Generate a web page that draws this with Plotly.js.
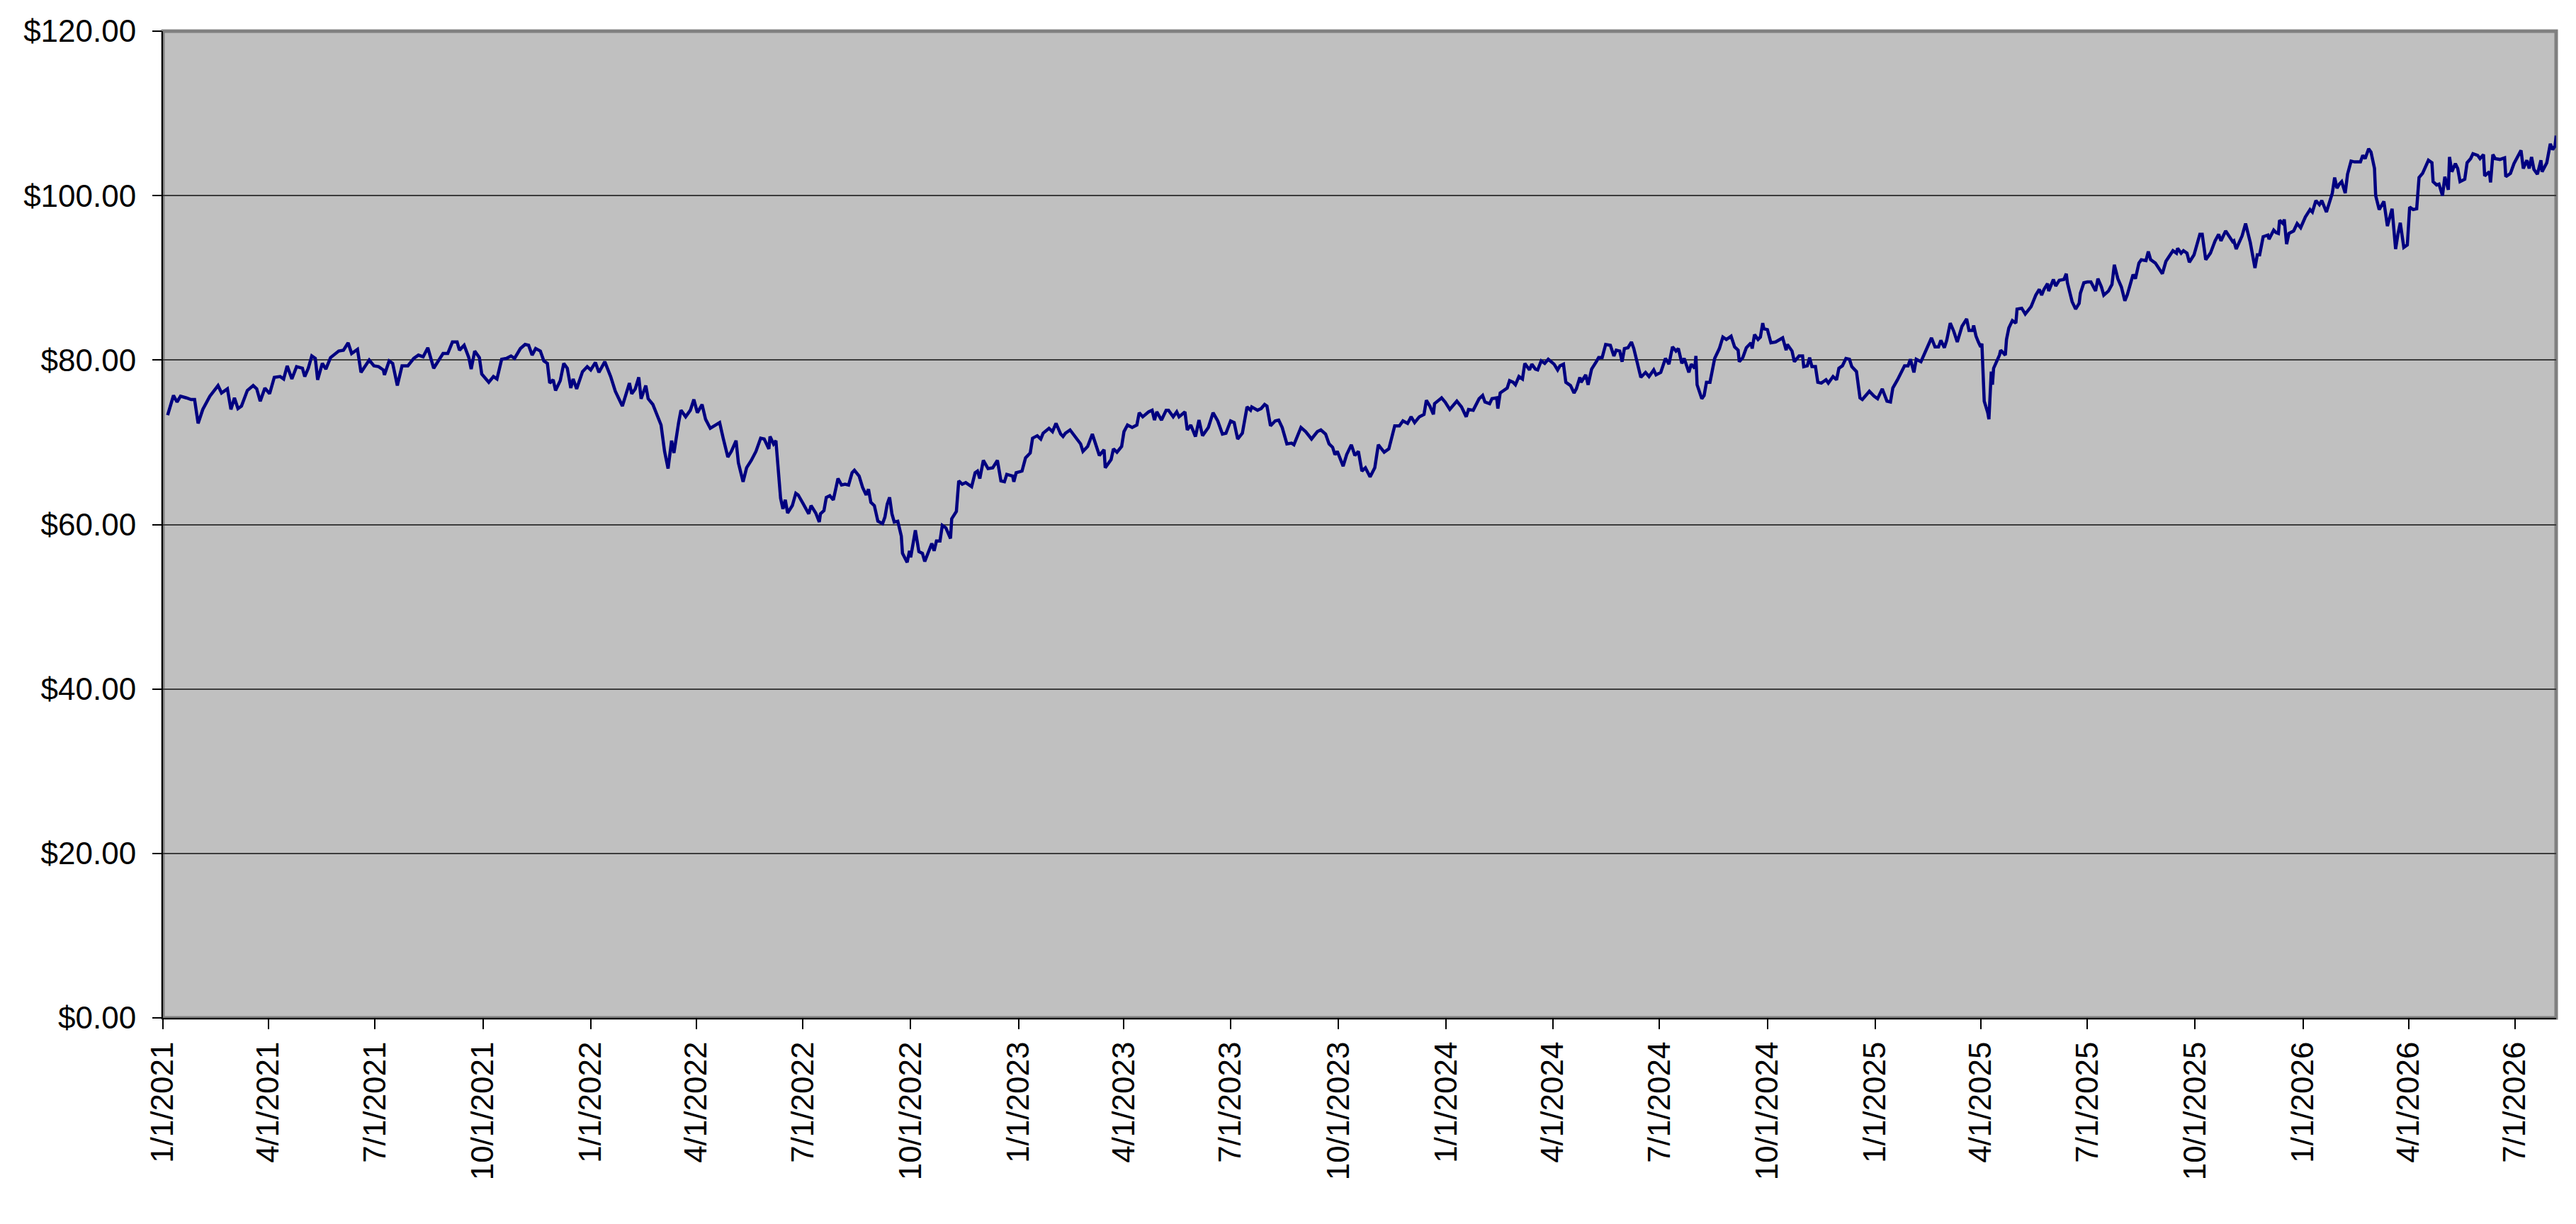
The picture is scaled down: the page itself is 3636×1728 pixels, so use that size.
<!DOCTYPE html>
<html>
<head>
<meta charset="utf-8">
<script src="https://cdn.plot.ly/plotly-3.0.1.min.js"></script>
<style>
  html, body { margin: 0; padding: 0; background: #ffffff; }
  #chart { width: 3636px; height: 1728px; }
</style>
</head>
<body>
<div id="chart"></div>
<script>
// Series values: day offsets from the start date and prices
const startDate = '2021-01-01';
const endDate = '2026-08-05';

const dayOffsets = [
  4, 9, 12, 15, 20, 24, 27, 30, 34, 40, 47, 50, 55, 58, 61, 64, 67, 72, 77, 80,
  83, 87, 91, 95, 100, 103, 106, 110, 114, 119, 121, 124, 127, 130, 132, 136, 139, 143, 150, 154,
  158, 161, 166, 169, 176, 180, 184, 188, 189, 193, 196, 200, 204, 209, 214, 218, 222, 226, 231, 239,
  243, 247, 251, 253, 257, 261, 263, 266, 270, 272, 278, 282, 285, 289, 293, 297, 300, 305, 309, 312,
  315, 318, 322, 325, 328, 330, 333, 335, 339, 342, 345, 348, 350, 353, 358, 362, 365, 369, 372, 377,
  382, 386, 392, 398, 400, 403, 406, 408, 412, 414, 418, 421, 425, 428, 431, 434, 436, 440, 442, 446,
  450, 453, 456, 460, 463, 467, 471, 475, 478, 482, 485, 489, 491, 495, 498, 502, 506, 510, 513, 517,
  518, 521, 523, 525, 527, 529, 531, 533, 537, 540, 542, 546, 551, 553, 557, 560, 561, 564, 566, 569,
  572, 576, 579, 582, 585, 588, 590, 594, 597, 600, 602, 604, 607, 610, 614, 616, 618, 620, 622, 624,
  627, 630, 631, 635, 637, 638, 642, 645, 648, 650, 653, 656, 658, 660, 663, 665, 668, 672, 673, 677,
  679, 682, 685, 690, 693, 695, 697, 700, 704, 708, 712, 715, 718, 720, 725, 726, 728, 733, 736, 740,
  742, 746, 749, 751, 756, 759, 762, 766, 768, 770, 774, 778, 783, 785, 789, 793, 796, 799, 803, 804,
  809, 811, 814, 818, 820, 823, 827, 831, 833, 836, 841, 844, 846, 848, 852, 856, 858, 862, 865, 867,
  872, 874, 877, 881, 884, 887, 892, 896, 900, 904, 907, 911, 914, 917, 921, 925, 928, 929, 934, 937,
  940, 942, 945, 949, 952, 955, 959, 963, 965, 971, 975, 980, 985, 988, 992, 995, 998, 1000, 1002, 1007,
  1010, 1014, 1017, 1020, 1023, 1026, 1030, 1034, 1037, 1042, 1046, 1049, 1051, 1055, 1058, 1062, 1065, 1068, 1072, 1076,
  1078, 1081, 1084, 1085, 1089, 1091, 1094, 1098, 1104, 1108, 1112, 1114, 1118, 1123, 1126, 1128, 1132, 1134, 1138, 1139,
  1141, 1147, 1149, 1152, 1154, 1157, 1160, 1162, 1166, 1168, 1171, 1173, 1176, 1179, 1182, 1187, 1190, 1192, 1195, 1197,
  1201, 1204, 1206, 1209, 1210, 1214, 1216, 1219, 1223, 1225, 1228, 1231, 1235, 1238, 1240, 1243, 1245, 1247, 1250, 1253,
  1255, 1259, 1261, 1265, 1268, 1272, 1274, 1278, 1282, 1285, 1288, 1291, 1293, 1296, 1298, 1302, 1304, 1307, 1308, 1309,
  1313, 1315, 1317, 1320, 1322, 1324, 1328, 1330, 1331, 1334, 1338, 1341, 1344, 1345, 1348, 1351, 1355, 1356, 1358, 1361,
  1363, 1365, 1366, 1369, 1372, 1376, 1379, 1382, 1385, 1386, 1390, 1392, 1396, 1399, 1400, 1403, 1405, 1407, 1410, 1412,
  1415, 1419, 1421, 1425, 1428, 1430, 1433, 1436, 1439, 1441, 1445, 1448, 1450, 1456, 1460, 1463, 1467, 1471, 1474, 1476,
  1480, 1482, 1486, 1489, 1491, 1494, 1496, 1500, 1503, 1506, 1509, 1512, 1515, 1517, 1520, 1522, 1525, 1528, 1531, 1535,
  1539, 1541, 1544, 1545, 1547, 1549, 1551, 1552, 1554, 1557, 1558, 1560, 1561, 1562, 1565, 1567, 1568, 1572, 1573, 1575,
  1578, 1581, 1582, 1586, 1589, 1592, 1594, 1596, 1598, 1601, 1603, 1605, 1608, 1609, 1613, 1615, 1618, 1622, 1624, 1625,
  1627, 1629, 1632, 1635, 1636, 1639, 1642, 1645, 1649, 1651, 1654, 1656, 1660, 1663, 1665, 1668, 1671, 1674, 1676, 1678,
  1681, 1683, 1686, 1688, 1692, 1694, 1696, 1700, 1706, 1709, 1713, 1715, 1718, 1719, 1722, 1724, 1727, 1729, 1733, 1736,
  1738, 1740, 1743, 1747, 1751, 1754, 1756, 1760, 1762, 1766, 1767, 1769, 1774, 1777, 1781, 1783, 1785, 1787, 1789, 1792,
  1796, 1797, 1801, 1803, 1805, 1806, 1809, 1810, 1812, 1814, 1818, 1821, 1824, 1828, 1832, 1834, 1837, 1840, 1842, 1846,
  1849, 1851, 1853, 1855, 1857, 1859, 1862, 1864, 1867, 1870, 1875, 1877, 1879, 1882, 1884, 1887, 1888, 1891, 1895, 1898,
  1902, 1903, 1905, 1907, 1909, 1912, 1915, 1917, 1920, 1923, 1925, 1928, 1931, 1933, 1936, 1937, 1940, 1942, 1945, 1947,
  1950, 1951, 1953, 1956, 1958, 1960, 1964, 1966, 1969, 1971, 1975, 1977, 1980, 1981, 1985, 1986, 1988, 1990, 1994, 1998,
  1999, 2003, 2006, 2009, 2012, 2014, 2017, 2019, 2021, 2023, 2026, 2029, 2030, 2034, 2037, 2039, 2041, 2042
];

const prices = [
  73.3, 75.7, 74.9, 75.6, 75.4, 75.2, 75.2, 72.3, 74.0, 75.6, 76.9, 76.0, 76.5, 74.0, 75.4, 74.1, 74.4, 76.3, 76.9, 76.5,
  75.0, 76.6, 75.9, 77.9, 78.0, 77.7, 79.3, 77.7, 79.2, 79.0, 78.0, 79.0, 80.5, 80.2, 77.6, 79.6, 78.9, 80.3, 81.1, 81.2,
  82.1, 80.8, 81.3, 78.5, 80.0, 79.3, 79.2, 78.8, 78.2, 79.9, 79.6, 76.9, 79.3, 79.3, 80.2, 80.6, 80.4, 81.5, 79.0, 80.8,
  80.8, 82.2, 82.2, 81.2, 81.8, 80.3, 78.9, 81.1, 80.3, 78.3, 77.3, 78.0, 77.7, 80.1, 80.2, 80.5, 80.2, 81.4, 81.9, 81.8,
  80.6, 81.4, 81.1, 79.9, 79.6, 77.2, 77.6, 76.3, 77.5, 79.6, 79.0, 76.6, 77.7, 76.5, 78.6, 79.2, 78.8, 79.7, 78.5, 79.8,
  78.0, 76.2, 74.4, 77.2, 75.9, 76.5, 77.9, 75.3, 76.9, 75.3, 74.6, 73.6, 72.1, 68.9, 66.8, 70.2, 68.7, 72.4, 73.9, 73.1,
  73.9, 75.2, 73.6, 74.6, 72.8, 71.7, 72.1, 72.4, 70.5, 68.2, 68.9, 70.2, 67.5, 65.2, 66.9, 67.8, 68.9, 70.5, 70.4, 69.2,
  70.7, 69.8, 70.2, 66.1, 63.2, 61.9, 63.0, 61.4, 62.3, 63.8, 63.6, 62.6, 61.3, 62.3, 61.4, 60.3, 61.3, 61.7, 63.3, 63.5,
  63.0, 65.6, 64.8, 64.9, 64.8, 66.3, 66.6, 65.9, 64.5, 63.6, 64.3, 62.7, 62.3, 60.4, 60.1, 60.9, 62.5, 63.3, 61.3, 60.3,
  60.4, 58.6, 56.5, 55.4, 56.8, 56.0, 59.3, 56.7, 56.5, 55.5, 56.7, 57.7, 56.8, 58.0, 58.0, 59.9, 59.6, 58.3, 60.7, 61.6,
  65.3, 64.9, 65.1, 64.6, 66.3, 66.5, 65.6, 67.8, 66.8, 66.9, 67.8, 65.3, 65.2, 66.1, 65.9, 65.2, 66.3, 66.5, 68.1, 68.7,
  70.5, 70.8, 70.4, 71.1, 71.7, 71.3, 72.3, 71.0, 70.7, 71.1, 71.5, 70.7, 69.8, 68.9, 69.5, 71.0, 69.8, 68.4, 69.1, 66.9,
  67.9, 69.2, 68.8, 69.5, 71.3, 72.1, 71.8, 72.1, 73.6, 73.1, 73.7, 73.9, 72.7, 73.7, 72.7, 73.9, 73.9, 73.1, 73.7, 73.1,
  73.7, 71.5, 72.1, 70.7, 72.7, 70.8, 71.8, 73.6, 72.6, 71.0, 71.1, 72.6, 72.4, 70.4, 71.1, 74.3, 73.9, 74.3, 73.9, 74.1,
  74.6, 74.4, 72.0, 72.6, 72.7, 71.8, 69.8, 69.9, 69.7, 71.8, 71.3, 70.4, 71.3, 71.5, 71.0, 69.8, 69.4, 68.5, 68.9, 67.1,
  68.5, 69.7, 68.4, 68.9, 66.5, 66.9, 65.8, 66.9, 69.7, 68.8, 69.2, 71.0, 72.0, 72.0, 72.6, 72.3, 73.1, 72.4, 73.1, 73.4,
  75.1, 74.4, 73.4, 74.7, 75.2, 75.4, 74.9, 74.0, 75.0, 74.3, 73.1, 74.0, 73.9, 75.3, 75.7, 74.9, 74.7, 75.3, 75.4, 74.1,
  76.0, 76.6, 77.5, 77.3, 77.0, 78.0, 77.7, 79.6, 78.8, 79.5, 78.9, 78.8, 79.9, 79.6, 80.1, 79.5, 78.8, 79.3, 79.5, 77.3,
  76.9, 76.0, 76.5, 77.9, 77.3, 78.2, 77.0, 78.9, 79.8, 80.3, 80.3, 81.9, 81.8, 80.5, 81.2, 81.1, 79.8, 81.4, 81.5, 82.2,
  81.4, 78.8, 77.9, 78.5, 78.0, 78.8, 78.2, 78.5, 80.2, 79.5, 81.6, 81.1, 81.4, 79.6, 80.2, 78.5, 79.5, 79.0, 80.5, 77.0,
  75.3, 75.7, 77.3, 77.3, 78.9, 80.2, 81.4, 82.2, 82.8, 82.5, 82.9, 81.6, 81.2, 79.8, 80.3, 81.5, 82.1, 81.4, 83.1, 82.5,
  82.8, 84.5, 83.8, 83.7, 82.1, 82.2, 82.4, 82.7, 81.2, 81.9, 81.1, 79.8, 80.5, 80.5, 79.2, 79.3, 80.3, 79.2, 79.2, 77.3,
  77.2, 77.6, 77.2, 78.0, 77.6, 79.0, 79.3, 80.2, 80.1, 79.2, 78.6, 75.4, 75.2, 76.2, 75.6, 75.3, 76.5, 75.0, 74.9, 76.6,
  77.6, 78.2, 79.3, 79.3, 80.1, 78.5, 80.1, 79.8, 80.8, 81.9, 82.7, 81.6, 81.6, 82.4, 81.5, 82.4, 84.5, 83.5, 82.2, 84.1,
  85.0, 83.6, 83.6, 84.2, 82.9, 82.2, 81.6, 82.0, 75.0, 73.6, 72.8, 78.6, 77.0, 79.0, 79.9, 80.6, 81.2, 80.6, 82.5, 83.9,
  84.8, 84.5, 86.2, 86.3, 85.6, 86.2, 86.5, 87.2, 87.9, 88.6, 87.9, 88.6, 89.3, 88.4, 89.8, 89.0, 89.7, 89.8, 90.5, 89.4,
  88.2, 87.1, 86.2, 86.9, 88.1, 89.4, 89.5, 89.5, 88.4, 89.9, 88.9, 87.9, 88.4, 89.2, 91.6, 89.9, 88.9, 87.2, 87.9, 88.9,
  90.4, 89.9, 91.8, 92.2, 92.1, 93.2, 92.2, 91.8, 90.5, 92.0, 92.8, 93.3, 93.0, 93.6, 93.0, 93.3, 93.0, 91.9, 92.8, 94.3,
  95.3, 95.3, 92.2, 93.0, 94.5, 95.3, 94.5, 95.7, 95.3, 94.4, 94.5, 93.5, 95.1, 96.6, 94.3, 92.7, 91.2, 92.8, 92.8, 95.0,
  95.2, 94.7, 95.8, 95.5, 95.4, 97.0, 96.6, 97.1, 94.1, 95.4, 95.7, 96.6, 96.1, 97.4, 98.3, 98.0, 99.4, 98.9, 99.4, 98.0,
  99.6, 100.3, 102.2, 100.9, 101.4, 101.7, 100.3, 102.6, 104.2, 104.1, 104.1, 104.9, 104.5, 105.7, 105.3, 103.3, 100.0, 98.3, 99.3, 96.3,
  98.4, 96.6, 93.5, 95.3, 96.7, 93.7, 94.0, 98.6, 98.3, 98.4, 102.2, 102.7, 103.6, 104.3, 104.0, 101.7, 101.3, 101.4, 100.0, 102.3,
  100.7, 104.7, 102.9, 103.9, 103.3, 101.7, 102.0, 104.0, 104.5, 105.1, 104.9, 104.5, 105.0, 102.4, 102.9, 101.6, 105.0, 104.5, 104.4, 104.6,
  102.3, 102.7, 103.9, 104.7, 105.5, 103.3, 104.3, 103.3, 104.7, 103.2, 102.6, 104.3, 102.9, 104.0, 106.3, 105.6, 106.0, 107.3
];

// Axis ticks: quarterly date labels and dollar gridlines
const tickDates = [
  '2021-01-01', '2021-04-01', '2021-07-01', '2021-10-01',
  '2022-01-01', '2022-04-01', '2022-07-01', '2022-10-01',
  '2023-01-01', '2023-04-01', '2023-07-01', '2023-10-01',
  '2024-01-01', '2024-04-01', '2024-07-01', '2024-10-01',
  '2025-01-01', '2025-04-01', '2025-07-01', '2025-10-01',
  '2026-01-01', '2026-04-01', '2026-07-01'
];
const priceTicks = [0, 20, 40, 60, 80, 100, 120];

// Build the date strings from the offsets
const startMs = Date.parse(startDate + 'T00:00:00Z');
const dates = dayOffsets.map(d => new Date(startMs + d * 86400000).toISOString().slice(0, 10));

// "2021-04-01" -> "4/1/2021"
const tickLabels = tickDates.map(s => {
    const [y, m, d] = s.split('-');
    return parseInt(m, 10) + '/' + parseInt(d, 10) + '/' + y;
});

const fontFamily = '"Liberation Sans", Arial, sans-serif';

const data = [{
    x: dates,
    y: prices,
    type: 'scatter',
    mode: 'lines',
    line: { color: '#000080', width: 4.5 },
    hoverinfo: 'x+y',
    showlegend: false
}];

const layout = {
    width: 3636,
    height: 1728,
    paper_bgcolor: '#ffffff',
    plot_bgcolor: '#c0c0c0',
    font: { family: fontFamily, size: 44, color: '#000000' },
    margin: { l: 230, r: 28, t: 44, b: 291, pad: 0 },
    showlegend: false,
    xaxis: {
        type: 'date',
        range: [startDate, endDate],
        tickmode: 'array',
        tickvals: tickDates,
        ticktext: tickLabels,
        tickangle: -90,
        ticks: 'outside',
        ticklen: 14,
        tickwidth: 2,
        tickcolor: '#000000',
        tickfont: { family: fontFamily, size: 44, color: '#000000' },
        showgrid: false,
        zeroline: false,
        showline: true,
        linecolor: '#000000',
        linewidth: 2,
        mirror: false
    },
    yaxis: {
        range: [0, 120],
        tickmode: 'array',
        tickvals: priceTicks,
        tickformat: '$.2f',
        ticks: 'outside',
        ticklen: 13,
        tickwidth: 2,
        tickcolor: '#000000',
        ticklabelstandoff: 14,
        tickfont: { family: fontFamily, size: 44, color: '#000000' },
        showgrid: true,
        gridcolor: '#3c3c3c',
        gridwidth: 2,
        zeroline: false,
        showline: true,
        linecolor: '#000000',
        linewidth: 2,
        mirror: false
    },
    shapes: [{
        type: 'rect',
        xref: 'paper', yref: 'paper',
        x0: 0, x1: 1, y0: 0, y1: 1,
        line: { color: '#808080', width: 5 },
        layer: 'below'
    }]
};

Plotly.newPlot('chart', data, layout, { staticPlot: true, displayModeBar: false });
</script>
</body>
</html>
